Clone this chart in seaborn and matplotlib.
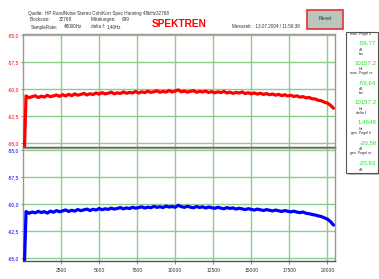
import numpy as np
import pandas as pd
import matplotlib
matplotlib.use('Agg')
import matplotlib.pyplot as plt
from matplotlib.patches import Rectangle
import seaborn as sns

# Spektrum-Daten, Bins im Abstand von 200 Hz, erster Wert = DC
df_hz = 200
pegel_li = [-70.0,
    -60.64, -60.81, -60.70, -60.62, -60.79, -60.66, -60.74, -60.58, -60.71, -60.63,
    -60.55, -60.68, -60.52, -60.64, -60.49, -60.61, -60.45, -60.57, -60.50, -60.40,
    -60.55, -60.43, -60.51, -60.36, -60.47, -60.33, -60.45, -60.38, -60.29, -60.44,
    -60.35, -60.41, -60.27, -60.39, -60.31, -60.36, -60.23, -60.37, -60.26, -60.33,
    -60.20, -60.31, -60.25, -60.16, -60.30, -60.22, -60.28, -60.14, -60.27, -60.19,
    -60.08, -60.26, -60.18, -60.29, -60.21, -60.15, -60.30, -60.22, -60.27, -60.19,
    -60.32, -60.24, -60.35, -60.26, -60.33, -60.22, -60.36, -60.29, -60.40, -60.31,
    -60.37, -60.27, -60.42, -60.34, -60.45, -60.36, -60.47, -60.39, -60.50, -60.42,
    -60.53, -60.46, -60.57, -60.49, -60.61, -60.53, -60.64, -60.58, -60.69, -60.63,
    -60.75, -60.70, -60.82, -60.78, -60.90, -60.92, -61.05, -61.08, -61.22, -61.30,
    -61.50, -61.78]
pegel_re = [-70.0,
    -60.70, -60.86, -60.74, -60.82, -60.68, -60.79, -60.71, -60.84, -60.66, -60.76,
    -60.61, -60.72, -60.64, -60.55, -60.69, -60.58, -60.66, -60.51, -60.62, -60.54,
    -60.47, -60.60, -60.49, -60.56, -60.42, -60.53, -60.44, -60.50, -60.38, -60.47,
    -60.41, -60.33, -60.45, -60.36, -60.42, -60.30, -60.39, -60.33, -60.26, -60.37,
    -60.29, -60.34, -60.22, -60.31, -60.25, -60.33, -60.19, -60.28, -60.23, -60.30,
    -60.12, -60.24, -60.31, -60.21, -60.29, -60.35, -60.23, -60.32, -60.26, -60.37,
    -60.28, -60.34, -60.40, -60.30, -60.38, -60.44, -60.33, -60.41, -60.36, -60.47,
    -60.39, -60.45, -60.52, -60.43, -60.50, -60.56, -60.47, -60.54, -60.60, -60.52,
    -60.58, -60.64, -60.56, -60.63, -60.69, -60.61, -60.67, -60.73, -60.66, -60.75,
    -60.80, -60.74, -60.86, -60.90, -60.97, -61.02, -61.10, -61.16, -61.28, -61.40,
    -61.62, -61.95]

y_ticks = [-55.0, -57.5, -60.0, -62.5, -65.0]
y_labels = ['-55,0', '-57,5', '-60,0', '-62,5', '-65,0']
x_ticks = [2500, 5000, 7500, 10000, 12500, 15000, 17500, 20000]
x_labels = ['2500', '5000', '7500', '10000', '12500', '15000', '17500', '20000']

info_labels = ['max. Pegel li', 'dB', 'bei', 'Hz', 'max. Pegel re', 'dB', 'bei', 'Hz',
               'delta f', 'Hz', 'ges. Pegel li', 'dB', 'ges. Pegel re', 'dB']
info_values = ['-59,77', '10157,2', '-59,64', '10157,2', '1,4648', '-20,56', '-20,63']

freq = np.arange(len(pegel_li)) * df_hz
data = pd.DataFrame({'f': freq, 'li': pegel_li, 're': pegel_re})

sns.set_style('white')
plt.rcParams['font.family'] = ['Liberation Sans', 'DejaVu Sans']

W, H = 379, 279
fig = plt.figure(figsize=(W / 100, H / 100), dpi=100)
fig.patch.set_facecolor('white')

def px(x, y):
    return x / W, 1 - y / H

ax1 = fig.add_axes([23 / W, 1 - 147 / H, 312 / W, 113 / H])
ax2 = fig.add_axes([23 / W, 1 - 261 / H, 312 / W, 113 / H])

grid_c = '#8ccc8c'
for ax, col, farbe, ylim in [(ax1, 'li', '#ff0000', (-65.37, -54.9)),
                             (ax2, 're', '#0000ff', (-65.28, -54.81))]:
    for t in y_ticks:
        ax.axhline(t, color=grid_c, lw=1.0, zorder=1)
    for t in x_ticks:
        ax.axvline(t, color=grid_c, lw=1.0, zorder=1)
    sns.lineplot(data=data, x='f', y=col, ax=ax, color=farbe, lw=2.3, zorder=3)
    ax.set_xlim(0, 20500)
    ax.set_ylim(*ylim)
    ax.set_yticks(y_ticks)
    ax.set_yticklabels(y_labels, fontsize=3.6, color=farbe)
    ax.set_xlabel('')
    ax.set_ylabel('')
    ax.tick_params(axis='y', length=1.5, width=0.5, pad=1.5, left=True, color='#555555')
    for s in ax.spines.values():
        s.set_color('#a09494')
        s.set_linewidth(1.0)
    ax.spines['bottom'].set_color('#555555')

ax1.set_xticks(x_ticks)
ax1.tick_params(axis='x', bottom=False, labelbottom=False)
ax2.set_xticks(x_ticks)
ax2.set_xticklabels(x_labels, fontsize=3.6, color='#333333')
ax2.tick_params(axis='x', length=2, width=0.5, pad=3, bottom=True, color='#555555')

# Kopfzeile
kw = dict(fontsize=3.3, color='#333333', va='baseline', ha='left')
fig.text(*px(28, 15), 'Quelle:  HP RandNoise Stereo Coh/Korr Spec Hanning 48kHz32768', **kw)
fig.text(*px(30, 21), 'Blocksize:', **kw)
fig.text(*px(59, 21), '32768', **kw)
fig.text(*px(91, 21), 'Mittelungen:', **kw)
fig.text(*px(122, 21), '999', **kw)
fig.text(*px(31, 28.5), 'SampleRate:', **kw)
fig.text(*px(64, 28.5), '48000Hz', **kw)
fig.text(*px(91, 28.5), 'delta f:', **kw)
fig.text(*px(107, 28.5), '1,46Hz', **kw)
fig.text(*px(232, 28), 'Messzeit:   13.07.2004 / 11:59:38', **kw)
fig.text(*px(152, 24), 'SPEKTREN', fontsize=7.3, color='#ff0000', fontweight='bold',
         va='center', ha='left')

# Reset-Knopf
x0, y0 = px(307, 29)
fig.patches.append(Rectangle((x0, y0), 36 / W, 19 / H, transform=fig.transFigure,
                             facecolor='#b9c6bd', edgecolor='#e83030', lw=1.2))
fig.text(*px(325, 19), 'Reset', fontsize=3.6, color='#333333', ha='center', va='center')

# Infobox rechts
bx, by = px(346, 173)
fig.patches.append(Rectangle((bx + 1.5 / W, by - 1.5 / H), 32 / W, 141 / H, transform=fig.transFigure,
                             facecolor='#bbbbbb', edgecolor='none'))
fig.patches.append(Rectangle((bx, by), 32 / W, 141 / H, transform=fig.transFigure,
                             facecolor='white', edgecolor='#555555', lw=0.8))
label_y = [34.5, 50, 54, 69.3, 73.3, 89.3, 93.3, 109.3, 113.3, 129.3, 133.3, 149.3, 153.3, 170]
value_y = [42.3, 62.3, 82.3, 101.7, 121.7, 142.3, 162.7]
for txt, yy in zip(info_labels, label_y):
    fig.text(*px(361, yy), txt, fontsize=2.6, color='#222222', ha='center', va='center')
for txt, yy in zip(info_values, value_y):
    fig.text(*px(376.5, yy), txt, fontsize=4.4, color='#22e022', ha='right', va='center')

fig.savefig('out.png', dpi=100, facecolor='white')
